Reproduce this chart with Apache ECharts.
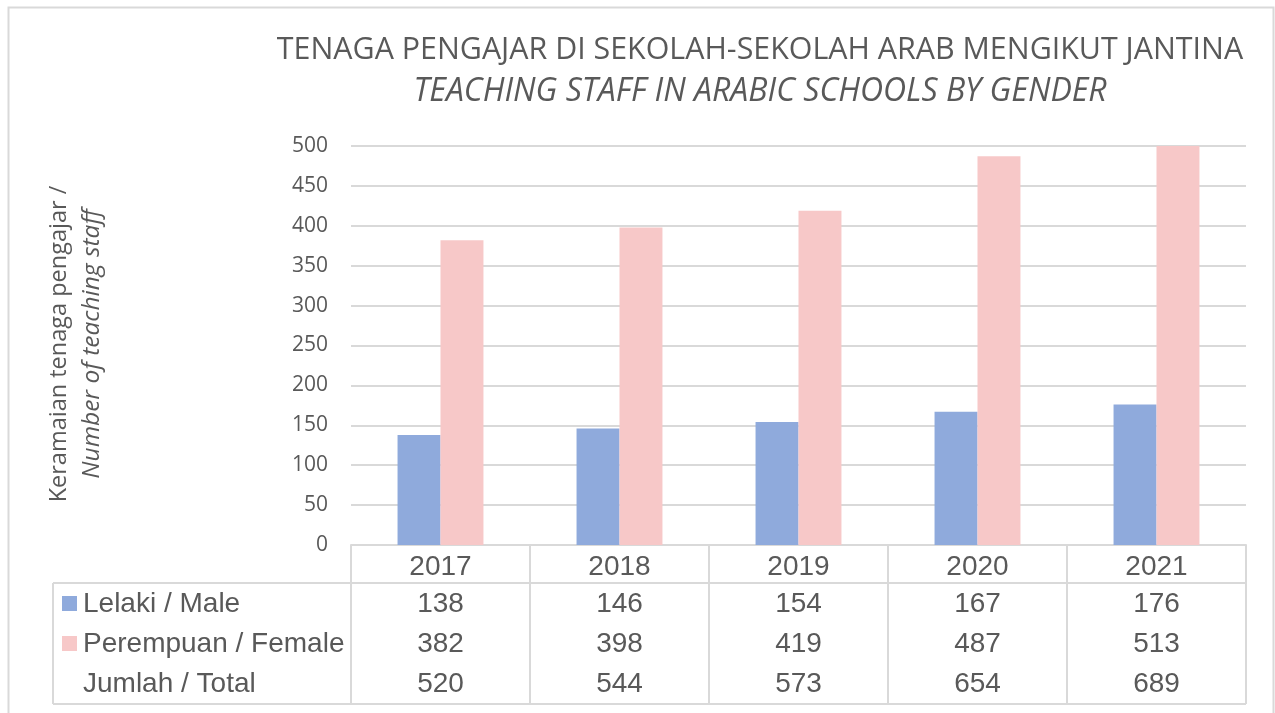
<!DOCTYPE html>
<html><head><meta charset="utf-8">
<script src="https://cdn.jsdelivr.net/npm/echarts@6/dist/echarts.min.js"></script>
<style>html,body{margin:0;padding:0;background:#fff}#c{width:1275px;height:713px}</style>
</head><body><div id="c"></div>
<script>
const years = ['2017','2018','2019','2020','2021'];
const male = [138,146,154,167,176];
const female = [382,398,419,487,513];
const total = [520,544,573,654,689];
const rowLabels = ['Lelaki / Male','Perempuan / Female','Jumlah / Total'];
const yTicks = [0,50,100,150,200,250,300,350,400,450,500];

const maleColor = '#8faadc', femaleColor = '#f7c8c8';
const grey = '#595959', lineCol = '#d9d9d9';
const chart = echarts.init(document.getElementById('c'));
const option = {
  animation:false,
  grid:{left:351, right:29, top:146, bottom:168},
  xAxis:{type:'category', data:years, axisTick:{show:false},
    axisLine:{lineStyle:{color:lineCol, width:2}},
    axisLabel:{fontFamily:'Liberation Sans', fontSize:28, color:grey, margin:8}},
  yAxis:{type:'value', min:0, max:500, interval:50,
    axisLabel:{fontFamily:'Open Sans', fontSize:21, color:grey, margin:23},
    splitLine:{lineStyle:{color:lineCol, width:2}}, axisLine:{show:false}},
  series:[
    {type:'bar', name:'Lelaki / Male', data:male, itemStyle:{color:maleColor}, barGap:'0%', barCategoryGap:'52%'},
    {type:'bar', name:'Perempuan / Female', data:female, itemStyle:{color:femaleColor}}
  ]
};
chart.setOption(option);

const g = [];
g.push({type:'rect', shape:{x:8.5,y:7.5,width:1265,height:720}, style:{fill:'none', stroke:lineCol, lineWidth:2}, silent:true});
g.push({type:'text', x:760, y:50, style:{text:'TENAGA PENGAJAR DI SEKOLAH-SEKOLAH ARAB MENGIKUT JANTINA', font:'30.4px "Open Sans"', fill:grey, textAlign:'center', textVerticalAlign:'middle'}});
g.push({type:'text', x:760, y:92, style:{text:'TEACHING STAFF IN ARABIC SCHOOLS BY GENDER', font:'italic 32px "Open Sans"', fill:grey, textAlign:'center', textVerticalAlign:'middle'}});
// y-axis title
g.push({type:'text', rotation:Math.PI/2, x:59, y:344, style:{text:'Keramaian tenaga pengajar /', font:'23.5px "Open Sans"', fill:grey, textAlign:'center', textVerticalAlign:'middle'}});
g.push({type:'text', rotation:Math.PI/2, x:92, y:344, style:{text:'Number of teaching staff', font:'italic 24.5px "Open Sans"', fill:grey, textAlign:'center', textVerticalAlign:'middle'}});

const y0 = chart.convertToPixel({yAxisIndex:0}, 0);
const x0 = 351, x1 = 1275-29;
const step = (x1-x0)/years.length;
const headBottom = y0+38, tableBottom = y0+159, tableLeft = 53;
const L = (a,b,c,d)=>g.push({type:'line', shape:{x1:a,y1:b,x2:c,y2:d}, style:{stroke:lineCol, lineWidth:2}, silent:true});
for(let i=0;i<=years.length;i++){ L(x0+step*i, y0, x0+step*i, tableBottom); }
L(tableLeft, headBottom, x1, headBottom);
L(tableLeft, tableBottom, x1, tableBottom);
L(tableLeft, headBottom, tableLeft, tableBottom);
const rowsY = [y0+59, y0+99, y0+139];
const rows = [male, female, total];
const markers = [maleColor, femaleColor, null];
rows.forEach((arr,r)=>{
  arr.forEach((v,i)=>{
    const cx = chart.convertToPixel({xAxisIndex:0}, years[i]);
    g.push({type:'text', x:cx, y:rowsY[r], style:{text:String(v), font:'28px "Liberation Sans"', fill:grey, textAlign:'center', textVerticalAlign:'middle'}});
  });
  if(markers[r]) g.push({type:'rect', shape:{x:62,y:rowsY[r]-8,width:15,height:15}, style:{fill:markers[r]}});
  g.push({type:'text', x:83, y:rowsY[r], style:{text:rowLabels[r], font:'28px "Liberation Sans"', fill:grey, textAlign:'left', textVerticalAlign:'middle'}});
});
chart.setOption({graphic:g});
</script></body></html>
